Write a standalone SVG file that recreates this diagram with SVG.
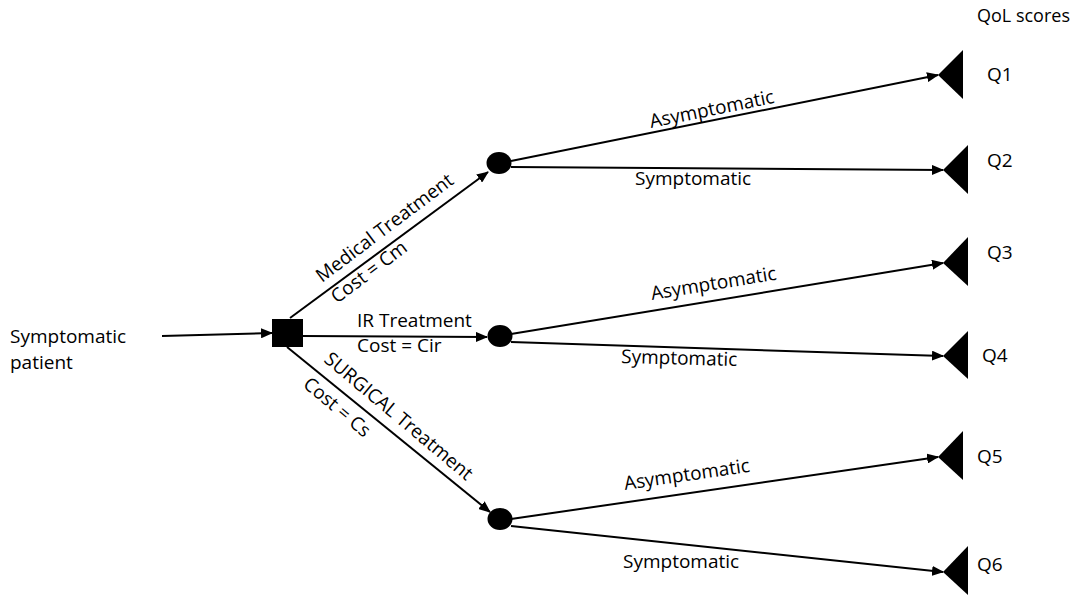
<svg xmlns="http://www.w3.org/2000/svg" width="1073" height="596" viewBox="0 0 1073 596">
<defs>
<style>
text{font-family:"Open Sans","Noto Sans","Liberation Sans",sans-serif;font-size:19px;fill:#000}
.ln{stroke:#000;stroke-width:2;fill:none}
.arr{marker-end:url(#ah)}
.q{font-size:19px}
</style>
<marker id="ah" markerUnits="userSpaceOnUse" markerWidth="12" markerHeight="10" refX="11" refY="5" orient="auto">
<path d="M0,0 L12,5 L0,10 z" fill="#000"/>
</marker>
</defs>
<rect width="1073" height="596" fill="#fff"/>
<g id="connectors">
<line class="ln arr" x1="162" y1="336" x2="272" y2="333"/>
<line class="ln arr" x1="290" y1="318" x2="488" y2="172"/>
<line class="ln arr" x1="303" y1="336" x2="487" y2="337"/>
<line class="ln arr" x1="287" y1="347" x2="490" y2="512"/>
<line class="ln arr" x1="511" y1="161" x2="938" y2="75"/>
<line class="ln arr" x1="511" y1="167" x2="943" y2="170"/>
<line class="ln arr" x1="511" y1="334" x2="943" y2="263"/>
<line class="ln arr" x1="511" y1="342" x2="943" y2="356"/>
<line class="ln arr" x1="511" y1="519" x2="938" y2="457"/>
<line class="ln arr" x1="511" y1="526" x2="943" y2="572"/>
<text transform="translate(322,283) rotate(-37)">Medical Treatment</text>
<text transform="translate(337,304) rotate(-37)">Cost = Cm</text>
<text x="357" y="327">IR Treatment</text>
<text x="357" y="352">Cost = Cir</text>
<text transform="translate(323,361) rotate(40)">SURGICAL Treatment</text>
<text transform="translate(302,386) rotate(40)">Cost = Cs</text>
<text transform="translate(651,128) rotate(-11.5)">Asymptomatic</text>
<text x="635" y="185">Symptomatic</text>
<text transform="translate(652,300) rotate(-9.3)">Asymptomatic</text>
<text transform="translate(621,363) rotate(1.5)">Symptomatic</text>
<text transform="translate(625,490) rotate(-8.3)">Asymptomatic</text>
<text x="623" y="568">Symptomatic</text>
</g>
<g id="start">
<text x="10" y="343">Symptomatic</text>
<text x="10" y="369">patient</text>
</g>
<g id="decision"><rect x="272" y="319" width="31" height="28" fill="#000"/></g>
<g id="chance-medical"><ellipse cx="499" cy="163" rx="12.5" ry="11" fill="#000"/></g>
<g id="chance-ir"><ellipse cx="500" cy="336" rx="12.5" ry="11" fill="#000"/></g>
<g id="chance-surgical"><ellipse cx="500" cy="519" rx="12.5" ry="11" fill="#000"/></g>
<text x="977" y="22" style="font-size:18px">QoL scores</text>
<g id="q1"><polygon points="938,75 963,50 963,99" fill="#000"/><text class="q" x="987" y="81">Q1</text></g>
<g id="q2"><polygon points="943,170 968,145 968,194" fill="#000"/><text class="q" x="987" y="167">Q2</text></g>
<g id="q3"><polygon points="943,263 968,237 968,286" fill="#000"/><text class="q" x="987" y="259">Q3</text></g>
<g id="q4"><polygon points="943,356 968,331 968,379" fill="#000"/><text class="q" x="982" y="362">Q4</text></g>
<g id="q5"><polygon points="938,457 963,431 963,480" fill="#000"/><text class="q" x="977" y="463">Q5</text></g>
<g id="q6"><polygon points="943,572 968,546 968,595" fill="#000"/><text class="q" x="977" y="571">Q6</text></g>
</svg>
